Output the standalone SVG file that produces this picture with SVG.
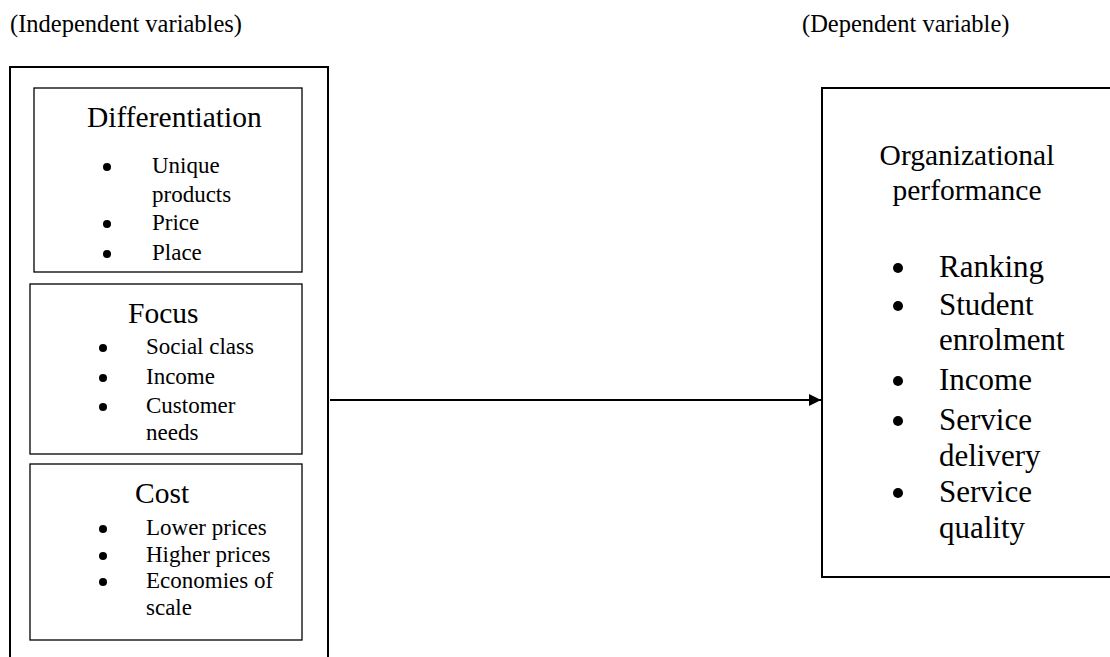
<svg xmlns="http://www.w3.org/2000/svg" width="1110" height="657" viewBox="0 0 1110 657">
<style>
text{font-family:"Liberation Serif","Times New Roman",serif;fill:#000}
.hdr{font-size:24.5px}
.ttl{font-size:29.5px}
.li{font-size:23px}
.ri{font-size:31px}
.outer{fill:none;stroke:#000;stroke-width:2}
.inner{fill:none;stroke:#000;stroke-width:1.3}
.conn{stroke:#000;stroke-width:2;fill:none}
.b{fill:#000}
</style>
<defs>
<marker id="ah" viewBox="0 0 10 10" refX="10" refY="5" markerWidth="7" markerHeight="6" markerUnits="strokeWidth" orient="auto">
<path d="M0,0 L10,5 L0,10 z" fill="#000"/>
</marker>
</defs>
<rect width="1110" height="657" fill="#fff"/>
<text class="hdr" x="10" y="32">(Independent variables)</text>
<text class="hdr" x="802" y="32">(Dependent variable)</text>
<g id="independent">
<rect class="outer" x="10" y="67" width="318" height="630"/>
</g>
<g id="differentiation">
<rect class="inner" x="34" y="88" width="268" height="184"/>
<text class="ttl" x="87" y="127">Differentiation</text>
<circle class="b" cx="107" cy="167" r="4"/>
<text class="li" x="152" y="173">Unique</text>
<text class="li" x="152" y="202">products</text>
<circle class="b" cx="107" cy="224" r="4"/>
<text class="li" x="152" y="230">Price</text>
<circle class="b" cx="107" cy="254" r="4"/>
<text class="li" x="152" y="260">Place</text>
</g>
<g id="focus">
<rect class="inner" x="30" y="284" width="272" height="170"/>
<text class="ttl" x="128" y="323">Focus</text>
<circle class="b" cx="103" cy="348" r="4"/>
<text class="li" x="146" y="354">Social class</text>
<circle class="b" cx="103" cy="378" r="4"/>
<text class="li" x="146" y="384">Income</text>
<circle class="b" cx="103" cy="407" r="4"/>
<text class="li" x="146" y="413">Customer</text>
<text class="li" x="146" y="440">needs</text>
</g>
<g id="cost">
<rect class="inner" x="30" y="464" width="272" height="176"/>
<text class="ttl" x="135" y="503">Cost</text>
<circle class="b" cx="103" cy="529" r="4"/>
<text class="li" x="146" y="535">Lower prices</text>
<circle class="b" cx="103" cy="556" r="4"/>
<text class="li" x="146" y="562">Higher prices</text>
<circle class="b" cx="103" cy="582" r="4"/>
<text class="li" x="146" y="588">Economies of</text>
<text class="li" x="146" y="615">scale</text>
</g>
<g id="performance">
<rect class="outer" x="822" y="88" width="310" height="489"/>
<text class="ttl" x="967" y="165" text-anchor="middle">Organizational</text>
<text class="ttl" x="967" y="200" text-anchor="middle">performance</text>
<circle class="b" cx="898" cy="268" r="5"/>
<text class="ri" x="939" y="277">Ranking</text>
<circle class="b" cx="898" cy="306" r="5"/>
<text class="ri" x="939" y="315">Student</text>
<text class="ri" x="939" y="350">enrolment</text>
<circle class="b" cx="898" cy="381" r="5"/>
<text class="ri" x="939" y="390">Income</text>
<circle class="b" cx="898" cy="421" r="5"/>
<text class="ri" x="939" y="430">Service</text>
<text class="ri" x="939" y="466">delivery</text>
<circle class="b" cx="898" cy="493" r="5"/>
<text class="ri" x="939" y="502">Service</text>
<text class="ri" x="939" y="538">quality</text>
</g>
<g id="connectors">
<line class="conn" x1="330" y1="400" x2="821" y2="400" marker-end="url(#ah)"/>
</g>
</svg>
